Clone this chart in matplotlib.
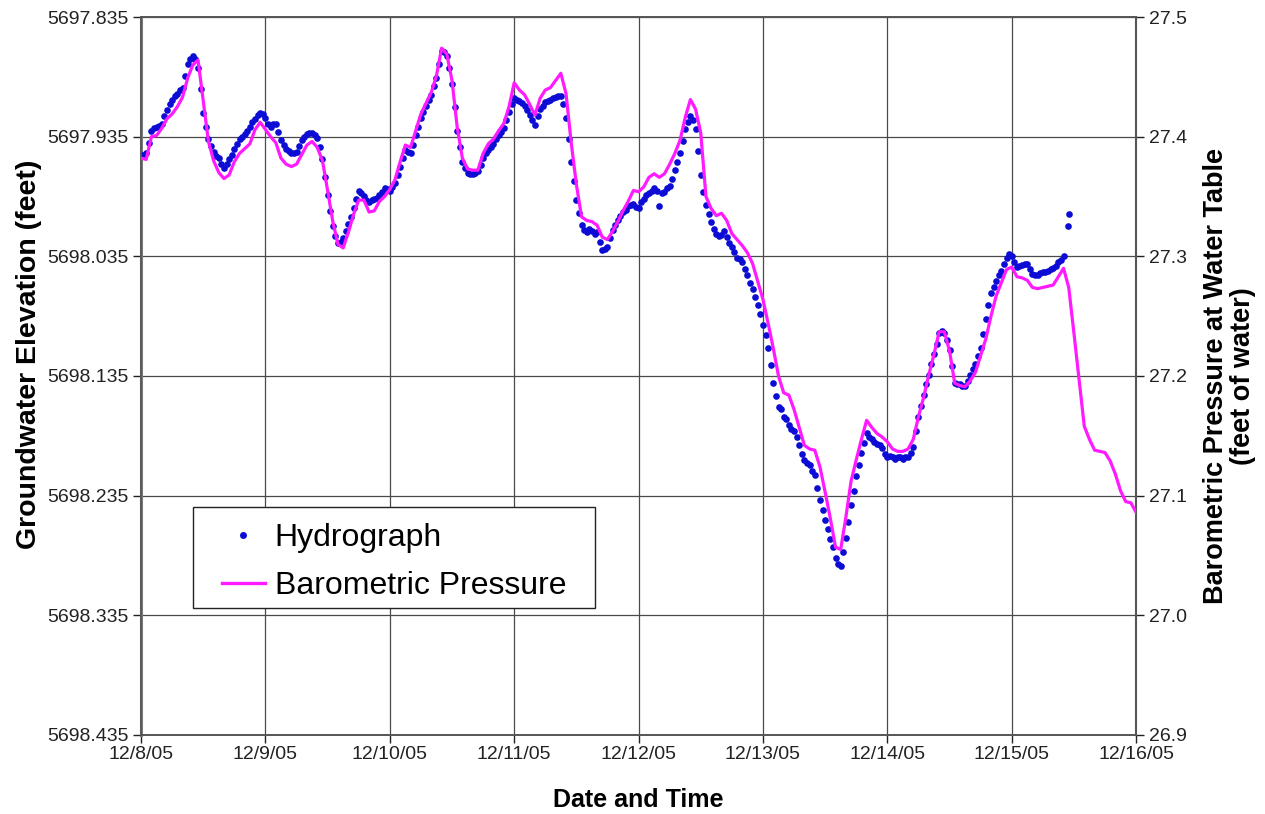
#!/usr/bin/env python3
"""Groundwater hydrograph vs barometric pressure at the water table, Dec 8-16 2005."""

import datetime as dt

import matplotlib
matplotlib.use('Agg')
import matplotlib.pyplot as plt
from matplotlib.lines import Line2D
from matplotlib.patches import Rectangle
from matplotlib.ticker import FormatStrFormatter

plt.rcParams['font.family'] = ['Liberation Sans', 'DejaVu Sans']

# Readings start 12/8/05 00:00
start = dt.datetime(2005, 12, 8)

# Barometric pressure at water table, feet of water (hourly, h = 0..192)
pressure_ft = [
    27.382, 27.381, 27.400, 27.401, 27.407, 27.415, 27.419, 27.425, 27.433, 27.449, 27.460, 27.464,
    27.430, 27.396, 27.380, 27.370, 27.365, 27.368, 27.379, 27.386, 27.390, 27.394, 27.406, 27.412,
    27.406, 27.400, 27.395, 27.382, 27.377, 27.375, 27.377, 27.385, 27.393, 27.396, 27.391, 27.380,
    27.355, 27.329, 27.310, 27.307, 27.320, 27.335, 27.347, 27.347, 27.337, 27.338, 27.346, 27.350,
    27.356, 27.364, 27.379, 27.393, 27.391, 27.405, 27.419, 27.428, 27.437, 27.451, 27.474, 27.469,
    27.447, 27.408, 27.382, 27.373, 27.372, 27.372, 27.386, 27.394, 27.398, 27.405, 27.411, 27.425,
    27.445, 27.439, 27.435, 27.427, 27.418, 27.432, 27.439, 27.441, 27.447, 27.453, 27.436, 27.395,
    27.360, 27.333, 27.330, 27.329, 27.326, 27.316, 27.314, 27.321, 27.329, 27.338, 27.346, 27.355,
    27.354, 27.358, 27.366, 27.369, 27.366, 27.369, 27.377, 27.386, 27.397, 27.416, 27.431, 27.423,
    27.403, 27.350, 27.340, 27.334, 27.336, 27.330, 27.319, 27.314, 27.309, 27.303, 27.294, 27.279,
    27.264, 27.244, 27.223, 27.200, 27.186, 27.184, 27.172, 27.157, 27.142, 27.139, 27.138, 27.124,
    27.103, 27.081, 27.057, 27.055, 27.082, 27.112, 27.130, 27.147, 27.163, 27.157, 27.152, 27.149,
    27.145, 27.139, 27.137, 27.137, 27.139, 27.147, 27.166, 27.182, 27.201, 27.218, 27.237, 27.237,
    27.221, 27.194, 27.192, 27.191, 27.196, 27.203, 27.217, 27.231, 27.250, 27.267, 27.278, 27.289,
    27.291, 27.283, 27.282, 27.280, 27.274, 27.273, 27.274, 27.275, 27.276, 27.283, 27.290, 27.274,
    27.236, 27.197, 27.158, 27.147, 27.138, 27.137, 27.136, 27.129, 27.118, 27.104, 27.095, 27.094,
    27.086,
]

# Groundwater elevation, feet (every 30 minutes, h = 0..178)
hydro_elev = [
    5697.950, 5697.950, 5697.949, 5697.940, 5697.930, 5697.928, 5697.927, 5697.926, 5697.924, 5697.918, 5697.913, 5697.908,
    5697.904, 5697.901, 5697.899, 5697.896, 5697.894, 5697.884, 5697.874, 5697.870, 5697.868, 5697.870, 5697.878, 5697.895,
    5697.915, 5697.927, 5697.937, 5697.943, 5697.948, 5697.951, 5697.953, 5697.958, 5697.961, 5697.958, 5697.954, 5697.950,
    5697.945, 5697.941, 5697.937, 5697.935, 5697.933, 5697.930, 5697.927, 5697.923, 5697.920, 5697.917, 5697.915, 5697.916,
    5697.919, 5697.924, 5697.927, 5697.924, 5697.924, 5697.931, 5697.938, 5697.942, 5697.945, 5697.947, 5697.949, 5697.949,
    5697.948, 5697.943, 5697.938, 5697.935, 5697.933, 5697.932, 5697.932, 5697.934, 5697.936, 5697.944, 5697.954, 5697.969,
    5697.984, 5697.997, 5698.010, 5698.018, 5698.024, 5698.023, 5698.020, 5698.014, 5698.008, 5698.002, 5697.995, 5697.987,
    5697.980, 5697.982, 5697.985, 5697.988, 5697.990, 5697.988, 5697.987, 5697.986, 5697.984, 5697.981, 5697.978, 5697.979,
    5697.980, 5697.977, 5697.974, 5697.967, 5697.960, 5697.953, 5697.946, 5697.948, 5697.949, 5697.942, 5697.934, 5697.927,
    5697.919, 5697.914, 5697.909, 5697.904, 5697.900, 5697.893, 5697.886, 5697.874, 5697.863, 5697.864, 5697.868, 5697.878,
    5697.891, 5697.910, 5697.930, 5697.944, 5697.956, 5697.961, 5697.965, 5697.966, 5697.966, 5697.965, 5697.964, 5697.959,
    5697.953, 5697.949, 5697.946, 5697.944, 5697.941, 5697.937, 5697.934, 5697.931, 5697.928, 5697.921, 5697.914, 5697.908,
    5697.903, 5697.904, 5697.905, 5697.907, 5697.909, 5697.913, 5697.917, 5697.921, 5697.925, 5697.918, 5697.912, 5697.909,
    5697.906, 5697.905, 5697.904, 5697.903, 5697.902, 5697.901, 5697.901, 5697.908, 5697.919, 5697.937, 5697.956, 5697.972,
    5697.988, 5697.999, 5698.009, 5698.013, 5698.015, 5698.012, 5698.014, 5698.016, 5698.015, 5698.023, 5698.030, 5698.029,
    5698.027, 5698.020, 5698.013, 5698.009, 5698.005, 5698.001, 5697.998, 5697.996, 5697.993, 5697.992, 5697.991, 5697.994,
    5697.995, 5697.990, 5697.987, 5697.984, 5697.982, 5697.980, 5697.978, 5697.980, 5697.993, 5697.982, 5697.981, 5697.978,
    5697.976, 5697.970, 5697.963, 5697.956, 5697.949, 5697.939, 5697.929, 5697.923, 5697.918, 5697.921, 5697.929, 5697.947,
    5697.967, 5697.981, 5697.992, 5698.000, 5698.006, 5698.012, 5698.016, 5698.018, 5698.017, 5698.014, 5698.019, 5698.024,
    5698.027, 5698.031, 5698.036, 5698.037, 5698.040, 5698.046, 5698.051, 5698.057, 5698.062, 5698.069, 5698.076, 5698.083,
    5698.092, 5698.101, 5698.112, 5698.126, 5698.141, 5698.152, 5698.161, 5698.163, 5698.169, 5698.171, 5698.176, 5698.179,
    5698.181, 5698.186, 5698.193, 5698.200, 5698.205, 5698.208, 5698.209, 5698.214, 5698.218, 5698.229, 5698.239, 5698.247,
    5698.255, 5698.263, 5698.271, 5698.278, 5698.287, 5698.292, 5698.294, 5698.282, 5698.270, 5698.257, 5698.243, 5698.231,
    5698.219, 5698.209, 5698.199, 5698.191, 5698.183, 5698.186, 5698.188, 5698.190, 5698.192, 5698.193, 5698.195, 5698.200,
    5698.203, 5698.202, 5698.203, 5698.204, 5698.203, 5698.203, 5698.204, 5698.203, 5698.203, 5698.199, 5698.194, 5698.181,
    5698.169, 5698.160, 5698.151, 5698.142, 5698.134, 5698.125, 5698.117, 5698.108, 5698.099, 5698.097, 5698.099, 5698.105,
    5698.113, 5698.127, 5698.141, 5698.142, 5698.142, 5698.143, 5698.143, 5698.139, 5698.134, 5698.129, 5698.125, 5698.118,
    5698.112, 5698.100, 5698.087, 5698.076, 5698.066, 5698.061, 5698.056, 5698.051, 5698.047, 5698.041, 5698.036, 5698.033,
    5698.035, 5698.040, 5698.044, 5698.043, 5698.042, 5698.041, 5698.041, 5698.046, 5698.050, 5698.051, 5698.051, 5698.049,
    5698.048, 5698.048, 5698.047, 5698.046, 5698.045, 5698.043, 5698.040, 5698.038, 5698.035,
]
# two late readings logged just after the last regular one
extra_hours = [178.8, 179.0]
extra_elev = [5698.010, 5698.000]

x_tick_labels = ['12/8/05', '12/9/05', '12/10/05', '12/11/05', '12/12/05',
                 '12/13/05', '12/14/05', '12/15/05', '12/16/05']
elev_ticks = [5697.835, 5697.935, 5698.035, 5698.135, 5698.235, 5698.335, 5698.435]
press_ticks = [27.5, 27.4, 27.3, 27.2, 27.1, 27.0, 26.9]

p_times = [start + dt.timedelta(hours=h) for h in range(len(pressure_ft))]
h_times = [start + dt.timedelta(minutes=30 * i) for i in range(len(hydro_elev))]
h_times += [start + dt.timedelta(hours=h) for h in extra_hours]
h_vals = hydro_elev + extra_elev
day_ticks = [start + dt.timedelta(days=d) for d in range(len(x_tick_labels))]

BLUE = '#0c0cd4'
MAGENTA = '#ff1aff'
GRID = '#4a4a4a'
TXT = '#222222'

fig = plt.figure(figsize=(12.65, 8.14), dpi=100)
ax = fig.add_axes([0.1115, 0.0971, 0.7866, 0.882])

ax.plot(h_times, h_vals, 'o', color=BLUE, markersize=4.8, markeredgewidth=0, zorder=3)
ax.set_ylim(elev_ticks[-1], elev_ticks[0])  # elevation axis runs downward
ax.set_yticks(elev_ticks)
ax.yaxis.set_major_formatter(FormatStrFormatter('%.3f'))
ax.set_xlim(day_ticks[0], day_ticks[-1])
ax.set_xticks(day_ticks)
ax.set_xticklabels(x_tick_labels)
ax.grid(True, color=GRID, linewidth=0.9)
ax.set_axisbelow(True)

ax2 = ax.twinx()
ax2.plot(p_times, pressure_ft, '-', color=MAGENTA, linewidth=2.3, zorder=4)
ax2.set_ylim(press_ticks[-1], press_ticks[0])
ax2.set_yticks(press_ticks)
ax2.yaxis.set_major_formatter(FormatStrFormatter('%.1f'))

for a in (ax, ax2):
    a.tick_params(axis='both', labelsize=14, colors=TXT, direction='out',
                  length=6, width=1, pad=3)
    for s in a.spines.values():
        s.set_color('#555555')
        s.set_linewidth(1.2)
ax.tick_params(axis='x', pad=2)
ax.spines['left'].set_color('#7a7a7a')
ax.spines['left'].set_linewidth(2.2)
ax2.spines['right'].set_linewidth(1.5)

ax.set_xlabel('Date and Time', fontsize=18, fontweight='bold', labelpad=18)
ax.set_ylabel('Groundwater Elevation (feet)', fontsize=20.5, fontweight='bold')
ax.yaxis.set_label_coords(-0.100, 0.53)
ax2.set_ylabel('Barometric Pressure at Water Table\n(feet of water)', fontsize=19.5,
               fontweight='bold', labelpad=12, rotation=90, linespacing=1.05)

# legend box drawn separately so its padding can be set on each side
ax2.add_patch(Rectangle((0.0523, 0.1769), 0.404, 0.1406, transform=ax2.transAxes,
                        facecolor='white', edgecolor='#222222', linewidth=1.0, zorder=5))
handles = [
    Line2D([], [], linestyle='none', marker='o', color=BLUE, markersize=5, markeredgewidth=0),
    Line2D([], [], color=MAGENTA, linewidth=2.4),
]
leg = ax2.legend(handles, ['Hydrograph', 'Barometric Pressure'], loc='upper left',
                 bbox_to_anchor=(0.0814, 0.295), fontsize=23, frameon=False,
                 handlelength=1.34, handletextpad=0.31, labelspacing=0.57,
                 borderpad=0, borderaxespad=0)
leg.set_zorder(6)

fig.savefig('out.png', dpi=100)
